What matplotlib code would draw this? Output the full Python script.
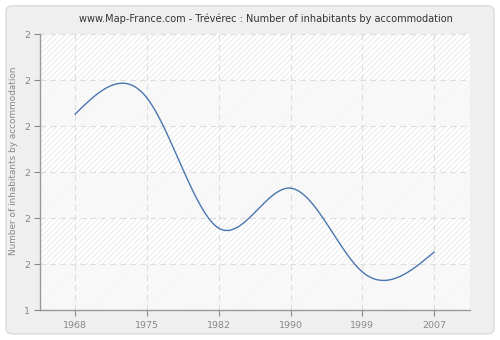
import numpy as np
import matplotlib
matplotlib.use("Agg")
import matplotlib.pyplot as plt
from matplotlib.patches import Rectangle, FancyBboxPatch
from matplotlib.ticker import FuncFormatter

years = ["1968", "1975", "1982", "1990", "1999", "2007"]
values = [1.826, 1.861, 1.578, 1.665, 1.483, 1.526]
yticks = [1.4, 1.5, 1.6, 1.7, 1.8, 1.9, 2.0]
title = "www.Map-France.com - Trévérec : Number of inhabitants by accommodation"
ylabel = "Number of inhabitants by accommodation"


def natural_spline(x, y, xs):
    x = np.asarray(x, float); y = np.asarray(y, float)
    n = len(x)
    h = np.diff(x)
    A = np.zeros((n, n)); b = np.zeros(n)
    A[0, 0] = 1; A[-1, -1] = 1
    for i in range(1, n - 1):
        A[i, i - 1] = h[i - 1]
        A[i, i] = 2 * (h[i - 1] + h[i])
        A[i, i + 1] = h[i]
        b[i] = 3 * ((y[i + 1] - y[i]) / h[i] - (y[i] - y[i - 1]) / h[i - 1])
    c = np.linalg.solve(A, b)
    out = np.empty_like(xs)
    for k, t in enumerate(xs):
        i = min(max(np.searchsorted(x, t) - 1, 0), n - 2)
        bi = (y[i + 1] - y[i]) / h[i] - h[i] * (2 * c[i] + c[i + 1]) / 3
        di = (c[i + 1] - c[i]) / (3 * h[i])
        dx = t - x[i]
        out[k] = y[i] + bi * dx + c[i] * dx ** 2 + di * dx ** 3
    return out


plt.rcParams["hatch.color"] = "#e6e6e6"
plt.rcParams["hatch.linewidth"] = 0.6

fig = plt.figure(figsize=(5, 3.4), dpi=100)
fig.patch.set_facecolor("white")
bg = FancyBboxPatch((0.012, 0.018), 0.976, 0.965, boxstyle="round,pad=0,rounding_size=0.015",
                    transform=fig.transFigure, facecolor="#efefef", edgecolor="#dcdcdc",
                    linewidth=1, zorder=-10)
fig.add_artist(bg)

ax = fig.add_axes([0.08, 0.088, 0.86, 0.812])
ax.set_zorder(5)
ax.set_facecolor("white")
ax.set_xlim(-0.49, 5.5)
ax.set_ylim(yticks[0], yticks[-1])

ax.add_patch(Rectangle((0, 0), 1, 1, transform=ax.transAxes, facecolor="white", hatch="//////",
                       edgecolor="#e6e6e6", linewidth=0, zorder=0))
for i in range(len(yticks) - 1):
    if i % 2 == 0:
        ax.axhspan(yticks[i], yticks[i + 1], facecolor="#f8f8f8", alpha=0.85, zorder=0.5, linewidth=0)

xi = np.arange(len(years))
xs = np.linspace(0, len(years) - 1, 400)
ax.plot(xs, natural_spline(xi, values, xs), color="#4a77ae", linewidth=1.0, zorder=3)

ax.set_xticks(xi)
ax.set_xticklabels(years)
ax.set_yticks(yticks)
ax.yaxis.set_major_formatter(FuncFormatter(lambda v, p: f"{round(v + 1e-9):.0f}"))
ax.grid(True, color="#dddddd", linestyle=(0, (5, 4)), linewidth=0.8, zorder=1)
ax.set_axisbelow(True)

for s in ["top", "right"]:
    ax.spines[s].set_visible(False)
for s in ["left", "bottom"]:
    ax.spines[s].set_color("#999999")
    ax.spines[s].set_linewidth(1)
ax.tick_params(colors="#888888", labelsize=6.8, length=4, width=0.8, direction="out")
ax.tick_params(axis="x", pad=4)
ax.tick_params(axis="y", pad=3)
ax.set_ylabel(ylabel, color="#888888", fontsize=6.4)
ax.yaxis.set_label_coords(-0.052, 0.54)
fig.text(0.532, 0.945, title, ha="center", va="center", fontsize=7, color="#333333")

fig.savefig("out.png", dpi=100, facecolor=fig.get_facecolor())
